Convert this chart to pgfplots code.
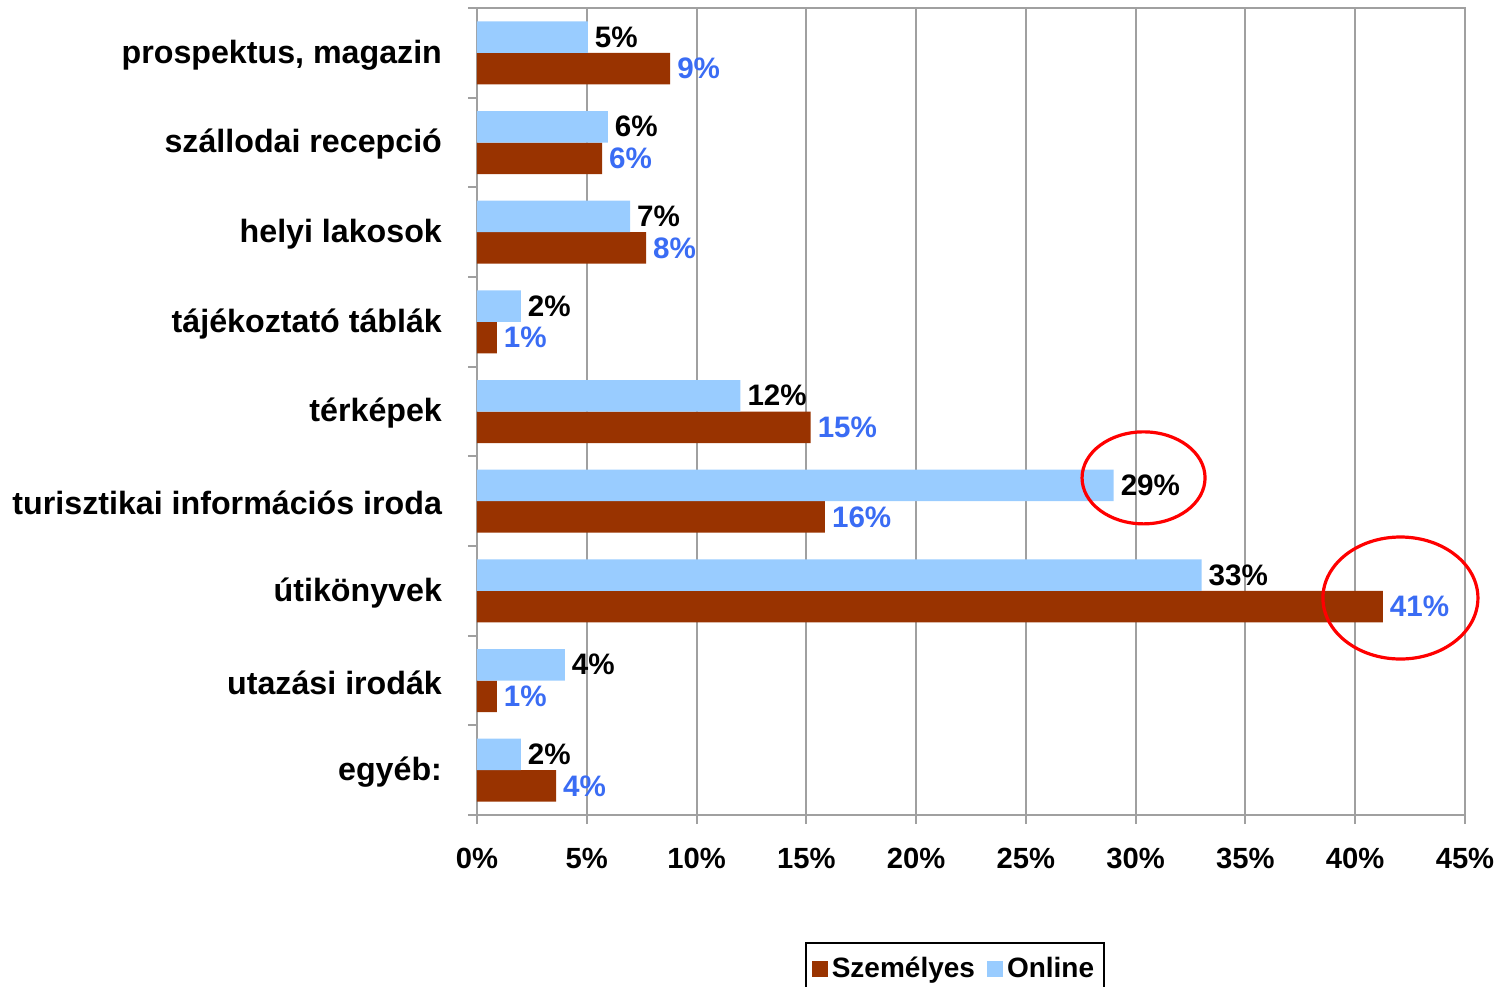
\documentclass[border=0pt]{standalone}
\usepackage{fontspec}
\setmainfont{Liberation Sans}
\usepackage{pgfplots}
\pgfplotsset{compat=1.18}
\definecolor{szem}{HTML}{993300}
\definecolor{onl}{HTML}{99CCFF}
\definecolor{lblue}{HTML}{3A6CF4}
\definecolor{gridg}{HTML}{A0A0A0}
\begin{document}
\begin{tikzpicture}
\useasboundingbox (-238.5pt,-85.5pt) rectangle (511.5pt,407.5pt);
\begin{axis}[
  at={(0,0)}, anchor=south west,
  scale only axis, width=494pt, height=403.5pt,
  xmin=0, xmax=45, ymin=-0.5, ymax=8.5,
  /pgf/number format/assume math mode=true,
  font=\fontsize{14.6}{17}\selectfont\bfseries,
  xtick={0,5,...,45},
  xticklabels={0\%,5\%,10\%,15\%,20\%,25\%,30\%,35\%,40\%,45\%},
  ytick={-0.5,0.5,...,8.5},
  yticklabels={},
  extra y ticks={0,1,2,3,4,5,6,7,8},
  extra y tick labels={egyéb:, utazási irodák, útikönyvek, turisztikai információs iroda, térképek, tájékoztató táblák, helyi lakosok, szállodai recepció, {prospektus, magazin}},
  extra y tick style={major tick length=0pt, ymajorgrids=false, yticklabel style={font=\fontsize{16.1}{18}\selectfont\bfseries, yshift=-1pt}},
  xtick pos=bottom, ytick pos=left,
  tick align=outside, major tick length=4.5pt,
  xmajorgrids,
  grid style={gridg, line width=1pt},
  axis line style={gridg, line width=1pt},
  tick style={gridg, line width=1pt},
  xticklabel style={yshift=-8.5pt},
  yticklabel style={xshift=-14pt},
  clip=false,
  legend style={at={(0.4838,0)}, anchor=north, yshift=-63.5pt, legend columns=2, draw=black, line width=1pt, font=\fontsize{14}{16}\selectfont\bfseries, inner xsep=3pt, inner ysep=5pt, /tikz/every even column/.append style={column sep=4pt}},
  legend image code/.code={\path[#1, draw=none] (0pt,-4pt) rectangle (8pt,4pt);},
]
\addplot[xbar, bar width=15.75pt, bar shift=-7.875pt, fill=szem, draw=none,
  nodes near coords={\pgfmathprintnumber[fixed,precision=0]{\pgfplotspointmeta}\%},
  nodes near coords style={anchor=west, yshift=-7.875pt, text=lblue, font=\fontsize{14.8}{17}\selectfont\bfseries}]
  coordinates {(8.8,8) (5.7,7) (7.7,6) (0.9,5) (15.2,4) (15.85,3) (41.26,2) (0.9,1) (3.6,0)};
\addlegendentry{Személyes}
\addplot[xbar, bar width=15.75pt, bar shift=7.875pt, fill=onl, draw=none,
  nodes near coords={\pgfmathprintnumber[fixed,precision=0]{\pgfplotspointmeta}\%},
  nodes near coords style={anchor=west, yshift=7.875pt, text=black, font=\fontsize{14.8}{17}\selectfont\bfseries}]
  coordinates {(5.05,8) (5.96,7) (6.97,6) (2.0,5) (12.0,4) (29.0,3) (33.0,2) (4.0,1) (2.0,0)};
\addlegendentry{Online}
\draw[red, line width=1.6pt] (axis cs:30.36,3.26) ellipse [x radius=30.75pt, y radius=23pt];
\draw[red, line width=1.6pt] (axis cs:42.06,1.92) ellipse [x radius=38.75pt, y radius=30.5pt];
\end{axis}
\end{tikzpicture}
\end{document}
